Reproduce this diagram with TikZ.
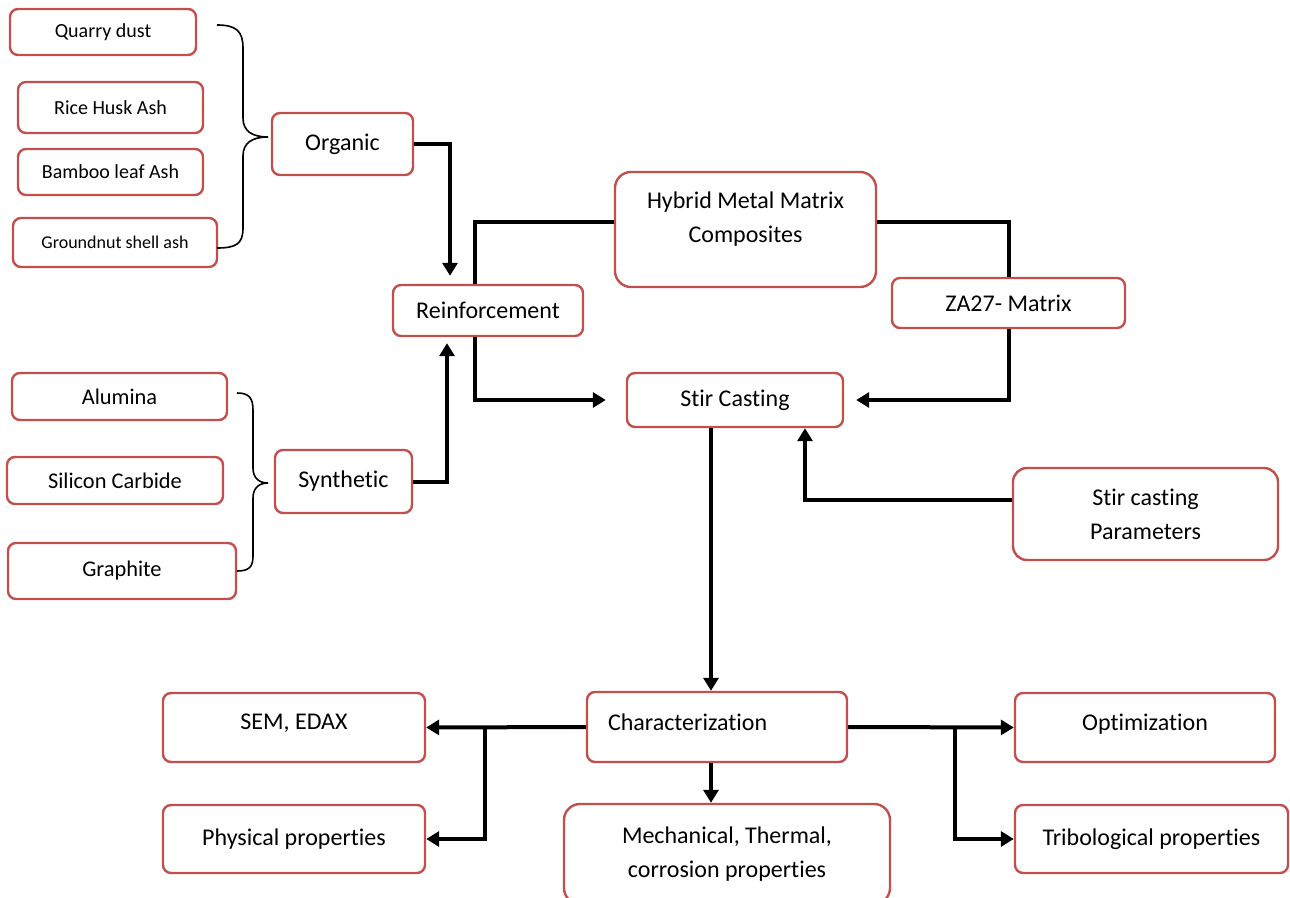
\documentclass[tikz,border=0pt]{standalone}
\usepackage{fontspec}
\setmainfont{Carlito}[Ligatures=NoCommon]
\usetikzlibrary{arrows.meta}
\usetikzlibrary{calc}

\definecolor{boxred}{HTML}{C0504D}

\tikzset{
  box/.style={draw=boxred, line width=1.2pt, rounded corners=4pt, fill=white, align=center, inner sep=0pt, font=\fontsize{12}{17}\selectfont},
  smallbox/.style={box, font=\fontsize{10}{12}\selectfont},
  midbox/.style={box, font=\fontsize{11.2}{14}\selectfont},
  link/.style={line width=2pt},
  arrow/.style={link, -{Triangle[length=6.5pt,width=7.5pt]}},
  brace/.style={line width=0.8pt},
}

\begin{document}
\begin{tikzpicture}[x=0.5pt, y=-0.5pt]
  \useasboundingbox (0,0) rectangle (1290,898);

  % organic reinforcements
  \node[smallbox, minimum width=93pt, minimum height=23pt] (quarry) at (103,32) {Quarry dust};
  \node[smallbox, minimum width=92.5pt, minimum height=25.5pt] (rice) at (110.5,107.5) {Rice Husk Ash};
  \node[smallbox, minimum width=92.5pt, minimum height=23pt] (bamboo) at (110.5,172) {Bamboo leaf Ash};
  \node[smallbox, font=\fontsize{9}{11}\selectfont, minimum width=102pt, minimum height=24.5pt] (groundnut) at (115,242.5) {Groundnut shell ash};
  \node[box, minimum width=70.5pt, minimum height=31pt] (organic) at (342.5,144) {Organic};

  % synthetic reinforcements
  \node[midbox, minimum width=107.5pt, minimum height=23.5pt] (alumina) at (119.5,396.5) {Alumina};
  \node[midbox, minimum width=108pt, minimum height=23.5pt] (sic) at (115,480.5) {Silicon Carbide};
  \node[midbox, minimum width=114pt, minimum height=28pt] (graphite) at (122,571) {Graphite};
  \node[box, minimum width=68.5pt, minimum height=31.5pt] (synthetic) at (343.5,481.5) {Synthetic};

  % braces grouping the fillers
  \draw[brace] (217,25) .. controls (236,25) and (243,31) .. (243,48) -- (243,118)
    .. controls (243,131) and (252,137) .. (268,137)
    .. controls (252,137) and (243,143) .. (243,156) -- (243,228)
    .. controls (243,244) and (236,248) .. (217,248);
  \draw[brace] (237,393) .. controls (249,393) and (253,398) .. (253,410) -- (253,468)
    .. controls (253,478) and (259,483) .. (268,483)
    .. controls (259,483) and (253,488) .. (253,498) -- (253,556)
    .. controls (253,567) and (249,571) .. (237,571);

  % main flow
  \node[box, minimum width=95pt, minimum height=25.5pt] (reinf) at (488,310.5) {Reinforcement};
  \node[box, rounded corners=8pt, minimum width=130.5pt, minimum height=57.5pt, text depth=12pt] (hmmc) at (745.5,229.5) {Hybrid Metal Matrix\\Composites};
  \node[box, minimum width=116.5pt, minimum height=25pt] (za27) at (1008.5,303) {ZA27- Matrix};
  \node[box, minimum width=108pt, minimum height=27pt] (stir) at (735,400) {Stir Casting};
  \node[box, rounded corners=7pt, minimum width=132.5pt, minimum height=46pt] (param) at (1145.5,514) {Stir casting\\Parameters};
  \node[box, minimum width=130pt, minimum height=35pt, text width=109pt, align=left, text depth=5pt] (charac) at (717,727) {Characterization};

  % results
  \node[box, minimum width=131pt, minimum height=34.5pt, text depth=5.5pt] (sem) at (294,727.5) {SEM, EDAX};
  \node[box, minimum width=131pt, minimum height=34pt] (phys) at (294,839) {Physical properties};
  \node[box, rounded corners=8pt, minimum width=163pt, minimum height=50pt] (mech) at (727,854) {Mechanical, Thermal,\\corrosion properties};
  \node[box, minimum width=130pt, minimum height=34.5pt, text depth=5.5pt] (optim) at (1145,727.5) {Optimization};
  \node[box, minimum width=136.5pt, minimum height=34pt] (tribo) at (1151.5,839) {Tribological properties};

  % bend points of the connectors
  \coordinate (orgx) at (450,0);
  \coordinate (rfx) at (475,0);
  \coordinate (synx) at (447,0);
  \coordinate (parx) at (805,0);
  \coordinate (chx) at (711,0);
  \coordinate (lbx) at (485,0);
  \coordinate (rbx) at (955,0);

  \draw[arrow, shorten >=4pt] (organic.east) -| (reinf.north -| orgx);
  \draw[arrow, shorten >=3pt] (synthetic.east) -| (reinf.south -| synx);
  \draw[link] ([yshift=3.75pt]hmmc.west) -| (reinf.north -| rfx);
  \draw[link] ([yshift=3.75pt]hmmc.east) -| (za27.north);
  \draw[arrow, shorten >=10pt] (reinf.south -| rfx) |- (stir.west);
  \draw[arrow, shorten >=6pt] (za27.south) |- (stir.east);
  \draw[arrow] ([yshift=7pt]param.west) -| (stir.south -| parx);
  \draw[arrow] (stir.south -| chx) -- (charac.north -| chx);
  \draw[arrow] (charac.south -| chx) -- (mech.north -| chx);

  % characterization branches
  \draw[arrow] (charac.west) -- (sem.east);
  \draw[arrow] (charac.west -| lbx) |- (phys.east);
  \draw[arrow] (charac.east) -- (optim.west);
  \draw[arrow] (charac.east -| rbx) |- (tribo.west);
\end{tikzpicture}
\end{document}
